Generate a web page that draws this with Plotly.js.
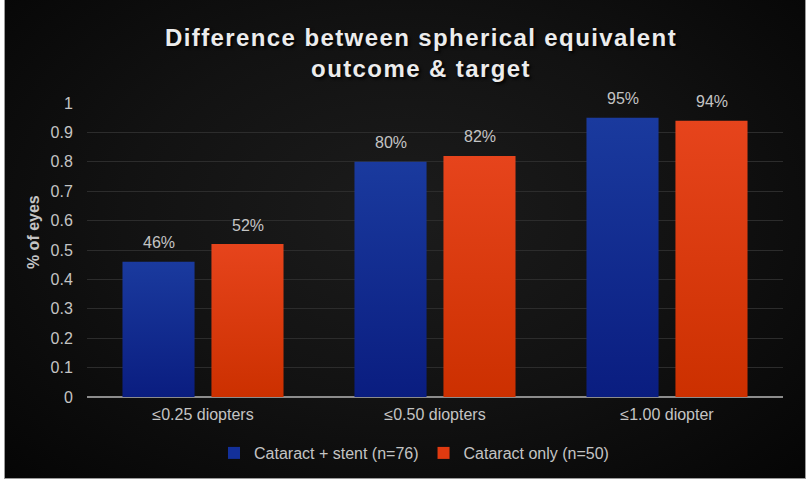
<!DOCTYPE html>
<html>
<head>
<meta charset="utf-8">
<script src="https://cdn.plot.ly/plotly-3.0.1.min.js"></script>
<style>
  html, body { margin: 0; padding: 0; background: #ffffff; }
  #wrap { position: relative; width: 810px; height: 487px; overflow: hidden; }
  #bg { position: absolute; left: 4px; top: 0px; width: 800px; height: 478px;
        background: radial-gradient(ellipse at 50% 45%, #1c1c1c 0%, #121212 50%, #050505 100%);
        border-right: 1px solid #9a9a9a; border-bottom: 1px solid #9a9a9a; border-left: 1px solid #9a9a9a; }
  #chart { position: absolute; left: 0; top: 0; width: 810px; height: 487px; }
  #chart .gtitle { letter-spacing: 1.4px; text-shadow: 2px 2px 3px rgba(0,0,0,0.9); }
</style>
</head>
<body>
<div id="wrap">
  <div id="bg"></div>
  <div id="chart"></div>
</div>
<script>
const categories = ["≤0.25 diopters", "≤0.50 diopters", "≤1.00 diopter"];
const seriesNames = ["Cataract + stent (n=76)", "Cataract only (n=50)"];
const stentValues = [0.46, 0.80, 0.95];
const onlyValues = [0.52, 0.82, 0.94];
const yTicks = [0, 0.1, 0.2, 0.3, 0.4, 0.5, 0.6, 0.7, 0.8, 0.9, 1];
const yTickLabels = ["0", "0.1", "0.2", "0.3", "0.4", "0.5", "0.6", "0.7", "0.8", "0.9", "1"];

const labelColor = "#c4c4c4";
const fontFam = "Liberation Sans, Arial, sans-serif";

const traces = [
  {
    type: "bar", name: seriesNames[0], x: categories, y: stentValues,
    marker: { color: "#13309a" }, hoverinfo: "none", cliponaxis: false
  },
  {
    type: "bar", name: seriesNames[1], x: categories, y: onlyValues,
    marker: { color: "#e03a10" }, hoverinfo: "none", cliponaxis: false
  }
];

const pct = v => Math.round(v * 100) + "%";
const annotations = [];
[stentValues, onlyValues].forEach(function (vals, si) {
  vals.forEach(function (v, ci) {
    annotations.push({
      x: categories[ci], y: v, xref: "x", yref: "y",
      xshift: si === 0 ? -44.5 : 44.5, yshift: 19,
      text: pct(v), showarrow: false, yanchor: "middle",
      font: { color: labelColor, size: 16, family: fontFam }
    });
  });
});
annotations.push({
  x: (33 - 87) / 696, xref: "paper", xanchor: "center", y: 0.561, yref: "paper", yanchor: "middle",
  text: "% of eyes", textangle: -90, showarrow: false,
  font: { color: labelColor, size: 16, family: fontFam, weight: "bold" }
});

const layout = {
  width: 810, height: 487,
  paper_bgcolor: "rgba(0,0,0,0)", plot_bgcolor: "rgba(0,0,0,0)",
  margin: { l: 87, r: 27, t: 103, b: 90 },
  barmode: "group", bargap: 0.233, bargroupgap: 0.19,
  title: {
    text: "Difference between spherical equivalent<br>outcome & target",
    x: 421 / 810, xref: "container", xanchor: "center",
    y: 1 - 46 / 487, yref: "container", yanchor: "middle",
    font: { family: fontFam, size: 24, color: "#ececec", weight: "bold" }
  },
  xaxis: {
    tickfont: { color: labelColor, size: 16, family: fontFam },
    showline: false, showgrid: false, ticks: "outside", ticklen: 3, tickcolor: "rgba(0,0,0,0)", fixedrange: true
  },
  yaxis: {
    range: [0, 1], tickvals: yTicks, ticktext: yTickLabels,
    tickfont: { color: labelColor, size: 16, family: fontFam },
    gridcolor: "#2c2c2c", gridwidth: 1,
    zeroline: true, zerolinecolor: "#8c8c8c", zerolinewidth: 1.5,
    showline: false, ticks: "outside", ticklen: 10, tickcolor: "rgba(0,0,0,0)",
    fixedrange: true
  },
  annotations: annotations,
  legend: {
    orientation: "h", x: (414 - 87) / 696, xanchor: "center", y: (397 - 453) / 294, yanchor: "middle",
    font: { color: labelColor, size: 16, family: fontFam },
    bgcolor: "rgba(0,0,0,0)", traceorder: "normal", itemwidth: 30
  },
  showlegend: true
};

Plotly.newPlot("chart", traces, layout, { displayModeBar: false, staticPlot: true }).then(function (gd) {
  const svg = gd.querySelector("svg.main-svg");
  const ns = "http://www.w3.org/2000/svg";
  let defs = svg.querySelector("defs");
  if (!defs) { defs = document.createElementNS(ns, "defs"); svg.insertBefore(defs, svg.firstChild); }
  function addGrad(id, top, bottom) {
    const g = document.createElementNS(ns, "linearGradient");
    g.setAttribute("id", id);
    g.setAttribute("x1", "0"); g.setAttribute("y1", "0");
    g.setAttribute("x2", "0"); g.setAttribute("y2", "1");
    const s1 = document.createElementNS(ns, "stop");
    s1.setAttribute("offset", "0"); s1.setAttribute("stop-color", top);
    const s2 = document.createElementNS(ns, "stop");
    s2.setAttribute("offset", "1"); s2.setAttribute("stop-color", bottom);
    g.appendChild(s1); g.appendChild(s2);
    defs.appendChild(g);
  }
  addGrad("gBlue", "#1a3a9e", "#0a1d80");
  addGrad("gOrange", "#e6441c", "#cc3000");
  const groups = gd.querySelectorAll(".barlayer .trace");
  const ids = ["gBlue", "gOrange"];
  groups.forEach(function (tr, i) {
    tr.querySelectorAll(".point path").forEach(function (p) {
      p.style.fill = "url(#" + ids[i] + ")";
    });
  });
});
</script>
</body>
</html>
